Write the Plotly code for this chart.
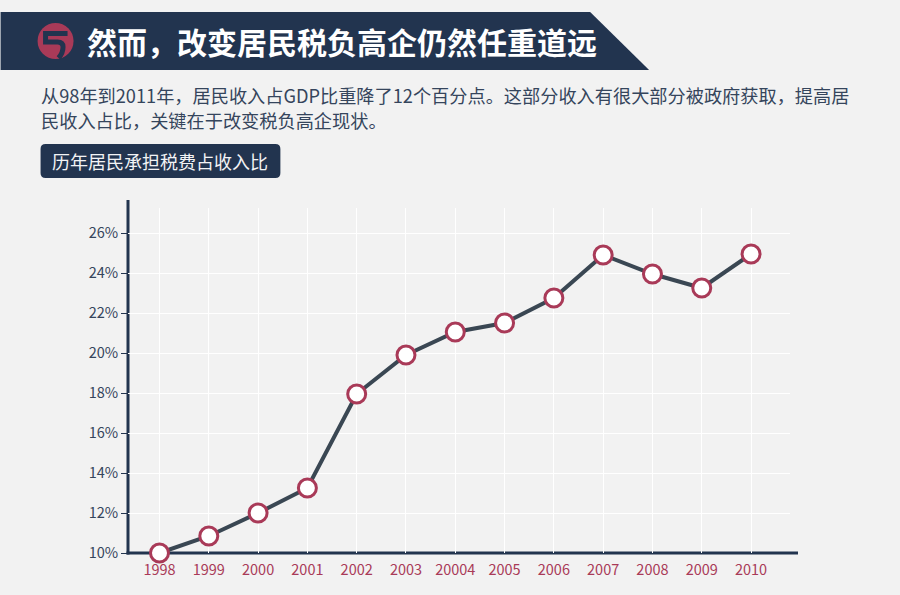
import plotly.graph_objects as go

years = ["1998", "1999", "2000", "2001", "2002", "2003", "20004", "2005", "2006", "2007", "2008", "2009", "2010"]
shares = [10.0, 10.85, 12.0, 13.25, 17.95, 19.9, 21.05, 21.5, 22.75, 24.9, 23.95, 23.25, 24.95]
y_ticks = [10, 12, 14, 16, 18, 20, 22, 24, 26]
y_labels = ["10%", "12%", "14%", "16%", "18%", "20%", "22%", "24%", "26%"]

title_text = "然而，改变居民税负高企仍然任重道远"
para_1 = "从98年到2011年，居民收入占GDP比重降了12个百分点。这部分收入有很大部分被政府获取，提高居"
para_2 = "民收入占比，关键在于改变税负高企现状。"
chip_text = "历年居民承担税费占收入比"

W, H = 900, 595
L, R, T, B = 127.5, 790, 208, 553
NAVY = "#22344f"
RED = "#a93a58"
CJK = "Noto Sans CJK SC"

def px(x):
    return (x - L) / (R - L)

def py(y):
    return 1 - (y - T) / (B - T)

def pshape(**k):
    return dict(xref="paper", yref="paper", layer="below", **k)

def poly(points):
    return "M " + " L ".join(f"{px(x):.5f} {py(y):.5f}" for x, y in points) + " Z"

fig = go.Figure(go.Scatter(
    x=years, y=shares, mode="lines+markers",
    line=dict(color="#3a4753", width=4),
    marker=dict(size=18, color="white", line=dict(color=RED, width=3)),
    cliponaxis=False, hoverinfo="skip",
))

def text(s, x, y, size, color, bold=False, anchor="left"):
    fig.add_annotation(
        xref="paper", yref="paper", x=px(x), y=py(y), text=f"<b>{s}</b>" if bold else s,
        showarrow=False, xanchor=anchor, yanchor="middle", align="left",
        font=dict(family=CJK, size=size, color=color),
    )

shapes = [
    pshape(type="path", path=poly([(0, 12), (590, 12), (649, 70), (0, 70)]), fillcolor=NAVY, line_width=0),
    pshape(type="circle", x0=px(37), x1=px(73), y0=py(59), y1=py(23), fillcolor=RED, line_width=0),
    pshape(type="path",
           path=(f"M {px(67):.5f} {py(33.5):.5f} L {px(45):.5f} {py(33.5):.5f} L {px(45):.5f} {py(42):.5f} "
                 f"L {px(57):.5f} {py(42):.5f} Q {px(62.5):.5f} {py(42):.5f} {px(62.5):.5f} {py(47):.5f} "
                 f"Q {px(62.5):.5f} {py(53):.5f} {px(58):.5f} {py(58):.5f}"),
           line=dict(color=NAVY, width=5)),
    # rounded chip
    pshape(type="path",
           path=(f"M {px(45):.5f} {py(144):.5f} L {px(275):.5f} {py(144):.5f} Q {px(280):.5f} {py(144):.5f} {px(280):.5f} {py(149):.5f} "
                 f"L {px(280):.5f} {py(173):.5f} Q {px(280):.5f} {py(178):.5f} {px(275):.5f} {py(178):.5f} "
                 f"L {px(45):.5f} {py(178):.5f} Q {px(40):.5f} {py(178):.5f} {px(40):.5f} {py(173):.5f} "
                 f"L {px(40):.5f} {py(149):.5f} Q {px(40):.5f} {py(144):.5f} {px(45):.5f} {py(144):.5f} Z"),
           fillcolor=NAVY, line_width=0),
    # axis lines
    pshape(type="line", x0=px(127.5), x1=px(127.5), y0=py(200), y1=py(554.5), line=dict(color=NAVY, width=3)),
    pshape(type="line", x0=px(126), x1=px(798), y0=py(553), y1=py(553), line=dict(color=NAVY, width=3)),
]

text(title_text, 84, 40.5, 30, "white", bold=True)
text(para_1, 38, 95, 18.2, "#35455c")
text(para_2, 38, 120, 18.2, "#35455c")
text(chip_text, 49, 160.5, 18, "#f2f3f5")

fig.update_layout(
    width=W, height=H,
    margin=dict(l=L, r=W - R, t=T, b=H - B, pad=0),
    paper_bgcolor="#f2f2f2", plot_bgcolor="rgba(0,0,0,0)",
    showlegend=False, shapes=shapes,
    font=dict(family=CJK),
    xaxis=dict(
        type="category", categoryorder="array", categoryarray=years,
        range=[-0.639, 12.79], showgrid=True, gridcolor="white", gridwidth=1,
        zeroline=False, showline=False, ticks="", ticklabelstandoff=6,
        tickfont=dict(size=14.5, color=RED, family=CJK),
    ),
    yaxis=dict(
        range=[10, 27.25], tickvals=y_ticks, ticktext=y_labels,
        showgrid=True, gridcolor="white", gridwidth=1, zeroline=False, showline=False,
        ticks="outside", ticklen=6, tickwidth=1, tickcolor=NAVY,
        tickfont=dict(size=14.5, color="#35455c", family=CJK),
    ),
)

fig.write_html("out.html", config={"displayModeBar": False},
               post_script="document.body.style.margin='0';document.documentElement.style.overflow='hidden';")
